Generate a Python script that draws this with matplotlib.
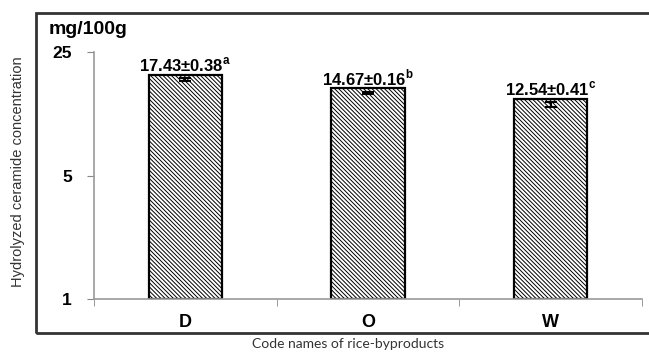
import matplotlib.pyplot as plt
from matplotlib.patches import Rectangle
import numpy as np

plt.rcParams['font.family'] = ['Liberation Sans', 'DejaVu Sans']
plt.rcParams['mathtext.fontset'] = 'custom'
plt.rcParams['mathtext.rm'] = 'Liberation Sans'
plt.rcParams['mathtext.bf'] = 'Liberation Sans:bold'
plt.rcParams['hatch.color'] = '#a0a0a0'
plt.rcParams['hatch.linewidth'] = 0.7

codes = ['D', 'O', 'W']
means = [17.43, 14.67, 12.54]
sds = [0.38, 0.16, 0.41]
letters = ['a', 'b', 'c']
yticks = [1, 5, 25]

fig = plt.figure(figsize=(6.49, 3.53), dpi=100)
ax = fig.add_axes([94/649, 1 - 299/353, 548/649, 247/353])

# outer chart frame (open on the right)
fig.patches.append(Rectangle((36/649, 1 - 333/353), 1.0, (333 - 13)/353,
                             transform=fig.transFigure, fill=False,
                             edgecolor='#333333', linewidth=2, zorder=0))

x = np.arange(len(codes))
ax.bar(x, means, width=0.4, bottom=1, color='white', edgecolor='black',
       linewidth=1.6, hatch='\\' * 8, zorder=2)
ax.errorbar(x, means, yerr=sds, fmt='none', ecolor='black', elinewidth=1.5,
            capsize=4, capthick=1.5, zorder=3)

for xi, m, s, l in zip(x, means, sds, letters):
    ax.annotate(f'{m:.2f}±{s:.2f}' + r'$^{\mathbf{' + l + '}}$',
                (xi, m + s), xytext=(0, 3), textcoords='offset points',
                ha='center', va='bottom', fontsize=12, fontweight='bold')

ax.set_yscale('log')
ax.set_ylim(1, 25)
ax.set_yticks(yticks)
ax.set_yticklabels([str(t) for t in yticks], fontweight='bold', fontsize=12.5)
ax.yaxis.set_minor_locator(plt.NullLocator())
ax.set_xlim(-0.5, 2.5)
ax.set_xticks(x)
ax.set_xticklabels(codes, fontweight='bold', fontsize=13)
ax.set_xticks([-0.5, 0.5, 1.5, 2.5], minor=True)
ax.tick_params(axis='x', which='major', length=0, pad=11)
ax.tick_params(axis='x', which='minor', length=5, color='#888888', direction='out')
ax.tick_params(axis='y', length=5, color='#888888', direction='out', pad=11)

for side in ['top', 'right']:
    ax.spines[side].set_visible(False)
for side in ['left', 'bottom']:
    ax.spines[side].set_color('#999999')
    ax.spines[side].set_linewidth(1.2)

fig.text(49/649, 1 - 30/353, 'mg/100g', fontsize=14, fontweight='bold',
         ha='left', va='center')
fig.text(18/649, 1 - 172/353, 'Hydrolyzed ceramide concentration', rotation=90,
         fontsize=10.5, ha='center', va='center', color='#333333')
fig.text(348/649, 1 - 344/353, 'Code names of rice-byproducts', fontsize=10,
         ha='center', va='center', color='#333333', family=['Lato', 'DejaVu Sans'])

fig.savefig('out.png', dpi=100)
